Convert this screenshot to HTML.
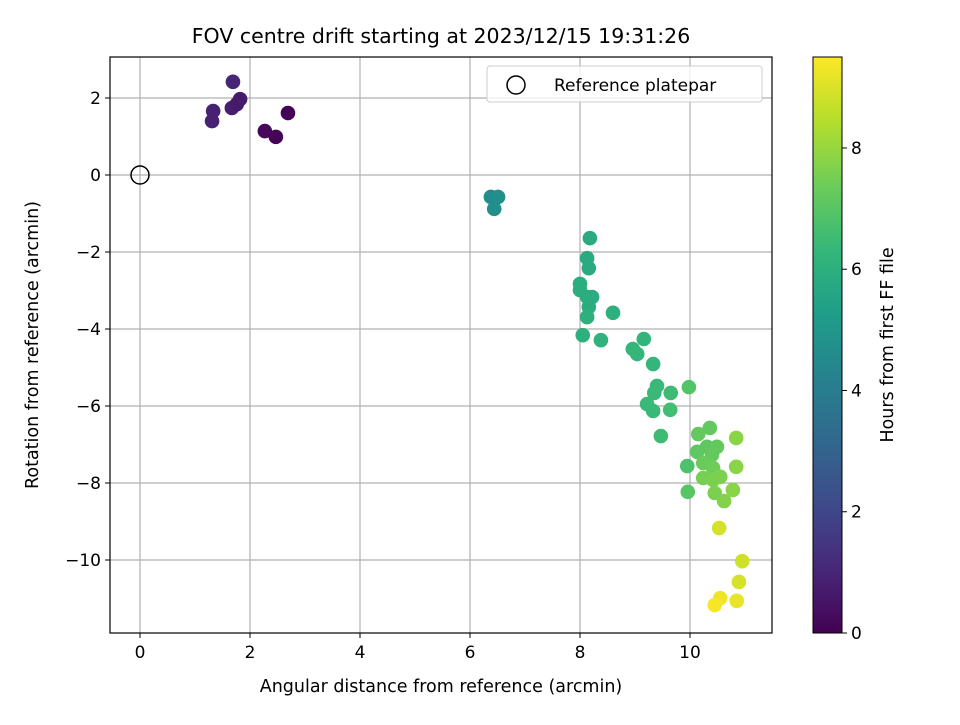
<!DOCTYPE html>
<html><head><meta charset="utf-8"><style>
body{margin:0;background:#fff;}
svg text{font-family:"DejaVu Sans",sans-serif;}
</style></head><body>
<svg id="chart" width="960" height="720" xmlns="http://www.w3.org/2000/svg"></svg>
<script>
const xVals=[1.69,1.33,1.31,1.67,1.76,1.82,2.27,2.47,2.69,6.38,6.51,6.44,8.18,8.13,8.16,8.0,8.0,8.13,8.22,8.16,8.13,8.6,8.05,8.38,9.16,8.96,9.04,9.33,9.4,9.35,9.65,9.98,9.22,9.33,9.64,9.47,10.15,10.36,10.84,10.13,10.31,10.49,10.4,9.95,10.24,10.84,10.42,10.24,10.55,10.42,9.96,10.45,10.78,10.62,10.53,10.95,10.89,10.55,10.45,10.85];
const yVals=[2.42,1.66,1.40,1.74,1.84,1.97,1.14,0.99,1.61,-0.57,-0.57,-0.88,-1.64,-2.16,-2.42,-2.83,-2.99,-3.17,-3.17,-3.43,-3.69,-3.58,-4.16,-4.29,-4.26,-4.52,-4.65,-4.91,-5.48,-5.66,-5.66,-5.51,-5.95,-6.13,-6.1,-6.78,-6.73,-6.57,-6.83,-7.19,-7.06,-7.06,-7.27,-7.56,-7.48,-7.58,-7.61,-7.87,-7.84,-7.92,-8.23,-8.26,-8.18,-8.47,-9.17,-10.03,-10.57,-10.99,-11.17,-11.06];
const hours=[1.0,0.9,0.9,0.8,0.7,0.7,0.2,0.1,0.05,4.6,4.7,4.7,5.8,5.8,5.8,5.9,5.9,5.9,5.9,5.9,6.0,6.0,6.0,6.1,6.2,6.3,6.3,6.3,6.4,6.4,6.5,6.9,6.4,6.4,6.6,6.5,7.2,7.2,7.8,7.1,7.1,7.2,7.2,6.8,7.3,7.8,7.4,7.5,7.6,7.6,7.0,7.6,7.8,7.7,8.9,8.8,8.9,9.3,9.4,9.2];
const xTicks=[0,2,4,6,8,10];
const yTicks=[2,0,-2,-4,-6,-8,-10];
const cTicks=[0,2,4,6,8];
const svg=document.getElementById('chart');const NS='http://www.w3.org/2000/svg';
function mk(t,a,p){const e=document.createElementNS(NS,t);for(const k in a)e.setAttribute(k,a[k]);(p||svg).appendChild(e);return e;}
const L=110,R=772,T=57,B=633;
const X=v=>140+v*55, Y=v=>175-v*38.5;
const cmin=0,cmax=9.5, C=v=>633-v*60.63;
const vir=[[68,1,84],[72,40,120],[62,74,137],[49,104,142],[38,130,142],[31,158,137],[53,183,121],[109,205,89],[180,222,44],[253,231,37]];
function col(h){let t=Math.max(0,Math.min(1,(h-cmin)/(cmax-cmin)))*9;let i=Math.min(8,Math.floor(t)),f=t-i;const a=vir[i],b=vir[i+1];return 'rgb('+a.map((c,k)=>Math.round(c+(b[k]-c)*f)).join(',')+')';}
const grid=mk('g',{});
xTicks.forEach(v=>{mk('line',{x1:X(v),x2:X(v),y1:T,y2:B,stroke:'#b0b0b0','stroke-width':1.2},grid);
 mk('line',{x1:X(v),x2:X(v),y1:B,y2:B+5,stroke:'#000'});
 const t=mk('text',{x:X(v),y:B+25,'font-size':17,'text-anchor':'middle'});t.textContent=v;});
yTicks.forEach(v=>{mk('line',{x1:L,x2:R,y1:Y(v),y2:Y(v),stroke:'#b0b0b0','stroke-width':1.2},grid);
 mk('line',{x1:L-5,x2:L,y1:Y(v),y2:Y(v),stroke:'#000'});
 const t=mk('text',{x:L-9,y:Y(v)+6,'font-size':17,'text-anchor':'end'});t.textContent=(v<0?'\u2212'+(-v):v);});
const pts=mk('g',{});
xVals.forEach((x,i)=>{const c=mk('circle',{cx:X(x),cy:Y(yVals[i]),r:7.3,fill:col(hours[i])},pts);});
const ref=mk('circle',{cx:X(0),cy:Y(0),r:9,fill:'none',stroke:'#000','stroke-width':1.5});
const fr=mk('rect',{x:L,y:T,width:R-L,height:B-T,fill:'none',stroke:'#000','stroke-width':1.2});
const lg=mk('g',{});
mk('rect',{x:487,y:66,width:275,height:36,rx:3,fill:'#fff','fill-opacity':0.8,stroke:'#ccc'},lg);
mk('circle',{cx:516,cy:85,r:9,fill:'none',stroke:'#000','stroke-width':1.5},lg);
const lt=mk('text',{x:554,y:91,'font-size':17},lg);lt.textContent='Reference platepar';
let t=mk('text',{x:441,y:43,'font-size':20.5,'text-anchor':'middle'});t.textContent='FOV centre drift starting at 2023/12/15 19:31:26';
t=mk('text',{x:441,y:692,'font-size':17.5,'text-anchor':'middle'});t.textContent='Angular distance from reference (arcmin)';
t=mk('text',{x:38,y:345,'font-size':17.5,'text-anchor':'middle',transform:'rotate(-90 38 345)'});t.textContent='Rotation from reference (arcmin)';
const defs=mk('defs',{});const gr=mk('linearGradient',{id:'vg',x1:0,y1:1,x2:0,y2:0},defs);
vir.forEach((c,i)=>mk('stop',{offset:(i/9),'stop-color':'rgb('+c.join(',')+')'},gr));
const cb=mk('rect',{x:813,y:57,width:29,height:576,fill:'url(#vg)',stroke:'#000','stroke-width':1});
cTicks.forEach(v=>{mk('line',{x1:842,x2:847,y1:C(v),y2:C(v),stroke:'#000'});
 const tt=mk('text',{x:851,y:C(v)+6,'font-size':17});tt.textContent=v;});
t=mk('text',{x:893,y:345,'font-size':17.5,'text-anchor':'middle',transform:'rotate(-90 893 345)'});t.textContent='Hours from first FF file';
</script>
</body></html>
